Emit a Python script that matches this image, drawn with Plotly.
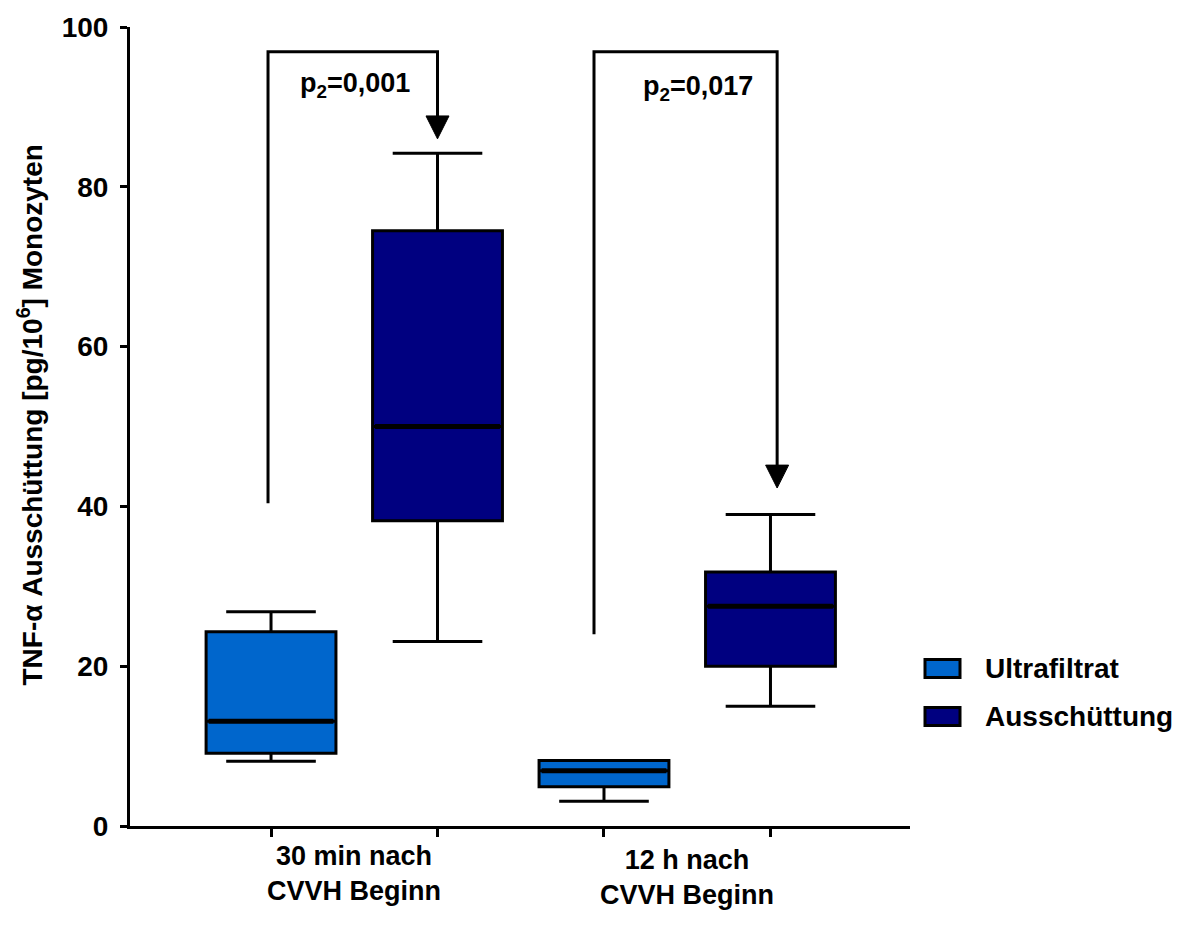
import plotly.graph_objects as go

# ---- data ----
groups = ["30 min nach<br>CVVH Beginn", "12 h nach<br>CVVH Beginn"]
series_names = ["Ultrafiltrat", "Ausschüttung"]
ultra_x = [0, 2]
ultra_low = [8.1, 3.1]
ultra_q1 = [9.1, 4.9]
ultra_med = [13.1, 6.9]
ultra_q3 = [24.3, 8.2]
ultra_high = [26.8, 8.2]

aus_x = [1, 3]
aus_low = [23.1, 15.0]
aus_q1 = [38.2, 20.0]
aus_med = [50.0, 27.5]
aus_q3 = [74.5, 31.8]
aus_high = [84.2, 39.0]

p_labels = ["p<sub>2</sub>=0,001", "p<sub>2</sub>=0,017"]
# bracket: left x, left bottom y, right x, arrow tip y, top y
br_left_x = [-0.018, 1.94]
br_left_y = [40.4, 24.0]
br_right_x = [1.0, 3.04]
br_tip_y = [86.0, 42.3]
br_top_y = 96.9
yticks = [0, 20, 40, 60, 80, 100]

colors = ["#0066CC", "#000080"]
FONT = "Liberation Sans, Arial, Helvetica, sans-serif"

W, H = 1193, 936
L, R, T, B = 130, 283, 24, 110
x_range = [-0.847, 3.838]

fig = go.Figure()

for xs, lo, q1, md, q3, hi, col, nm in [
    (ultra_x, ultra_low, ultra_q1, ultra_med, ultra_q3, ultra_high, colors[0], series_names[0]),
    (aus_x, aus_low, aus_q1, aus_med, aus_q3, aus_high, colors[1], series_names[1]),
]:
    fig.add_trace(go.Box(
        x=xs, q1=q1, median=md, q3=q3, lowerfence=lo, upperfence=hi,
        width=0.78, whiskerwidth=0.69, fillcolor=col,
        line=dict(color="black", width=3), name=nm, showlegend=False,
        boxpoints=False, hoverinfo="skip",
    ))
    # thicker median lines
    for xi, m in zip(xs, md):
        fig.add_trace(go.Scatter(x=[xi - 0.375, xi + 0.375], y=[m, m], mode="lines",
                                 line=dict(color="black", width=5), showlegend=False,
                                 hoverinfo="skip"))

# brackets + arrows
px_per_unit_y = (H - T - B) / 100.0
px_per_unit_x = (W - L - R) / (x_range[1] - x_range[0])
head_h = 23 / px_per_unit_y
head_w = 11.5 / px_per_unit_x
for lx, ly, rx, tip in zip(br_left_x, br_left_y, br_right_x, br_tip_y):
    fig.add_trace(go.Scatter(x=[lx, lx, rx, rx], y=[ly, br_top_y, br_top_y, tip + head_h - 0.3],
                             mode="lines", line=dict(color="black", width=3),
                             showlegend=False, hoverinfo="skip"))
    fig.add_trace(go.Scatter(x=[rx - head_w, rx + head_w, rx, rx - head_w],
                             y=[tip + head_h, tip + head_h, tip, tip + head_h],
                             mode="lines", fill="toself", fillcolor="black",
                             line=dict(color="black", width=1),
                             showlegend=False, hoverinfo="skip"))

# p labels
fig.add_annotation(x=0.16, y=92.7, text=p_labels[0], showarrow=False, xanchor="left",
                   yanchor="middle", font=dict(family=FONT, size=27, color="black", weight="bold"))
fig.add_annotation(x=2.22, y=92.4, text=p_labels[1], showarrow=False, xanchor="left",
                   yanchor="middle", font=dict(family=FONT, size=27, color="black", weight="bold"))

# category labels
for gx, g, yoff in zip([0.5, 2.5], groups, [-0.060, -0.065]):
    fig.add_annotation(x=gx, xref="x", y=yoff, yref="paper", text=g, showarrow=False,
                       xanchor="center", yanchor="middle",
                       font=dict(family=FONT, size=27, color="black", weight="bold"))

# y-axis title
fig.add_annotation(x=(30 - L) / (W - L - R), xref="paper", y=(H - B - 414) / (H - T - B), yref="paper",
                   text="TNF-α Ausschüttung [pg/10<sup>6</sup>] Monozyten", textangle=-90,
                   showarrow=False, xanchor="center", yanchor="middle",
                   font=dict(family=FONT, size=28, color="black", weight="bold"))

# custom legend
def px2paper_x(px):
    return (px - L) / (W - L - R)

def px2paper_y(py):
    return (H - B - py) / (H - T - B)

for i, (nm, col) in enumerate(zip(series_names, colors)):
    y0, y1 = 659 + i * 48, 677 + i * 48
    fig.add_shape(type="rect", xref="paper", yref="paper",
                  x0=px2paper_x(925), x1=px2paper_x(960), y0=px2paper_y(y1), y1=px2paper_y(y0),
                  fillcolor=col, line=dict(color="black", width=3))
    fig.add_annotation(x=px2paper_x(983), xref="paper", y=px2paper_y((y0 + y1) / 2), yref="paper",
                       text=nm, showarrow=False, xanchor="left", yanchor="middle",
                       font=dict(family=FONT, size=28, color="black", weight="bold"))

fig.update_layout(
    width=W, height=H, margin=dict(l=L, r=R, t=T, b=B),
    plot_bgcolor="white", paper_bgcolor="white", boxmode="overlay", showlegend=False,
)
fig.update_xaxes(range=x_range, tickvals=[0, 1, 2, 3], ticktext=["", "", "", ""],
                 showgrid=False, zeroline=False, showline=True, linecolor="black", linewidth=3,
                 ticks="outside", ticklen=8, tickwidth=3, tickcolor="black")
fig.update_yaxes(range=[0, 100], tickvals=yticks, showgrid=False, zeroline=False,
                 showline=True, linecolor="black", linewidth=3,
                 ticks="outside", ticklen=7, tickwidth=3, tickcolor="black",
                 ticklabelstandoff=6,
                 tickfont=dict(family=FONT, size=28, color="black", weight="bold"))

fig.write_html("out.html")
